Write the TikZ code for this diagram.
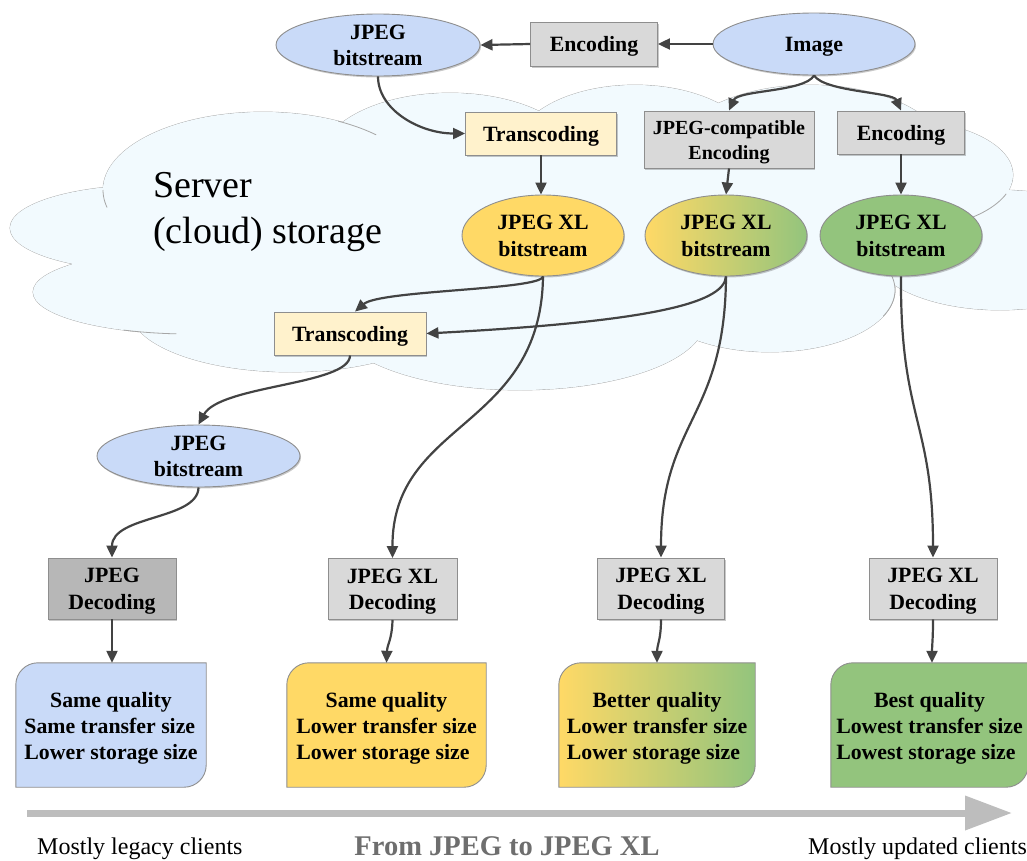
\documentclass[tikz,border=0pt]{standalone}
\usepackage{fontspec}
\setmainfont{Liberation Serif}
\usetikzlibrary{arrows.meta,shapes.geometric,shadows,calc,backgrounds}

\definecolor{bsblue}{HTML}{C9DAF8}
\definecolor{procgray}{HTML}{D9D9D9}
\definecolor{darkproc}{HTML}{B7B7B7}
\definecolor{jxlyellow}{HTML}{FFD966}
\definecolor{jxlgreen}{HTML}{93C47D}
\definecolor{transyellow}{HTML}{FFF2CC}
\definecolor{cloudfill}{HTML}{F2FAFE}
\definecolor{cloudedge}{HTML}{A6A6A6}
\definecolor{edgegray}{HTML}{8E8E8E}
\definecolor{connector}{HTML}{434343}
\definecolor{timeline}{HTML}{BDBDBD}
\definecolor{captiongray}{HTML}{6E6E6E}

% struts that keep the text block vertically balanced inside the shapes
\newcommand\topstrut{\rule{0pt}{20pt}}
\newcommand\botstrut{\rule[-5pt]{0pt}{5pt}}
\newcommand\lbl[1]{\topstrut#1\botstrut}

\tikzset{
  base/.style={draw=edgegray, line width=0.9pt, align=center, inner sep=0pt,
    font=\fontsize{21.8}{26.5}\selectfont\bfseries},
  shadowed/.style={drop shadow={shadow xshift=1pt, shadow yshift=-1.5pt, opacity=0.3, fill=black!70}},
  stream/.style={base, ellipse, inner xsep=-40pt, inner ysep=-15pt, shadowed},
  proc/.style={base, rectangle, fill=procgray, shadowed},
  resnode/.style={align=center, inner sep=0pt, minimum height=124pt,
    font=\fontsize{21.8}{26}\selectfont\bfseries},
  conn/.style={draw=connector, line width=2.2pt, -{Triangle[length=12pt,width=11pt]}},
  cloudpart/.style={draw=cloudedge, line width=0.8pt},
}

% result card: rectangle with rounded top-left and bottom-right corners
\newcommand\resultcard[6]{%
  \node[resnode, minimum width=#3] (#1) at #2
    {\rule{0pt}{24pt}#5\\\begin{tabular}[t]{@{}l@{}}#6\end{tabular}};
  \begin{pgfonlayer}{background}
    \path[draw=edgegray, line width=0.9pt, #4]
      ($(#1.north west)+(0,22)$) .. controls ($(#1.north west)+(0,10)$) and ($(#1.north west)+(10,0)$) .. ($(#1.north west)+(22,0)$)
      -- (#1.north east)
      -- ($(#1.south east)+(0,-22)$) .. controls ($(#1.south east)+(0,-10)$) and ($(#1.south east)+(-10,0)$) .. ($(#1.south east)+(-22,0)$)
      -- (#1.south west) -- cycle;
  \end{pgfonlayer}
}

\begin{document}
\begin{tikzpicture}[x=1pt,y=-1pt]
\useasboundingbox (0,0) rectangle (1027,860);

% ---------- storage cloud: outline of the union of ellipses ----------
\foreach \cx/\cy/\rx/\ry in {263/190/160/78, 450/160/130/67, 635/150/120/65, 810/160/140/75,
    900/175/113/55, 1000/250/130/60, 770/290/125/62, 520/320/185/70, 290/310/160/62,
    190/292/157/42, 150/228/140/43}
  \draw[cloudpart] (\cx,\cy) ellipse [x radius=\rx, y radius=\ry];
\foreach \cx/\cy/\rx/\ry in {263/190/160/78, 450/160/130/67, 635/150/120/65, 810/160/140/75,
    900/175/113/55, 1000/250/130/60, 770/290/125/62, 520/320/185/70, 290/310/160/62,
    190/292/157/42, 150/228/140/43, 540/230/380/100}
  \fill[cloudfill] (\cx,\cy) ellipse [x radius=\rx, y radius=\ry];
% short inner strokes where the lobes tuck into each other
\draw[cloudpart] plot[domain=45:62, samples=15] ({263+160*cos(\x)},{190-78*sin(\x)});
\draw[cloudpart] plot[domain=180:193, samples=10] ({263+160*cos(\x)},{190-78*sin(\x)});
\draw[cloudpart] plot[domain=-25:18, samples=20] ({770+125*cos(\x)},{290-62*sin(\x)});
\draw[cloudpart] plot[domain=-60:-20, samples=20] ({900+113*cos(\x)},{175-55*sin(\x)});
\draw[cloudpart] plot[domain=245:265, samples=15] ({190+157*cos(\x)},{292-42*sin(\x)});

\node[font=\fontsize{38}{46}\selectfont, align=left, anchor=north west, inner sep=0pt]
  (cloudlabel) at (153,172) {Server\\(cloud) storage};

% ---------- top row ----------
\node[stream, fill=bsblue, minimum width=204pt, minimum height=62pt] (jpgT) at (378,45) {\lbl{JPEG\\bitstream}};
\node[proc, minimum width=127pt, minimum height=44pt] (encT) at (594,44) {\lbl{Encoding}};
\node[stream, fill=bsblue, minimum width=202pt, minimum height=62pt] (img) at (814,44) {\lbl{Image}};

% ---------- inside the cloud ----------
\node[proc, fill=transyellow, minimum width=151pt, minimum height=43pt] (trT) at (541,133.5) {\lbl{Transcoding}};
\node[proc, minimum width=170pt, minimum height=57pt, font=\fontsize{20}{24.5}\selectfont\bfseries] (jce) at (729,139.5) {\lbl{JPEG-compatible\\Encoding}};
\node[proc, minimum width=127pt, minimum height=43pt] (encR) at (901,132.5) {\lbl{Encoding}};

\node[stream, fill=jxlyellow, minimum width=162pt, minimum height=81pt] (jxlY) at (543,235.5) {\lbl{JPEG XL\\bitstream}};
\node[stream, left color=jxlyellow, right color=jxlgreen, minimum width=162pt, minimum height=81pt] (jxlG) at (726,235.5) {\lbl{JPEG XL\\bitstream}};
\node[stream, fill=jxlgreen, minimum width=162pt, minimum height=81pt] (jxlR) at (901,235.5) {\lbl{JPEG XL\\bitstream}};

\node[proc, fill=transyellow, minimum width=152pt, minimum height=43pt] (trL) at (350,333.5) {\lbl{Transcoding}};
\node[stream, fill=bsblue, minimum width=203pt, minimum height=62pt] (jpgL) at (198.5,456) {\lbl{JPEG\\bitstream}};

% ---------- decoders ----------
\node[proc, fill=darkproc, minimum width=128pt, minimum height=61pt] (dec0) at (112,588.5) {\lbl{JPEG\\Decoding}};
\node[proc, minimum width=129pt, minimum height=61pt] (dec1) at (392.5,589) {\lbl{JPEG XL\\Decoding}};
\node[proc, minimum width=127pt, minimum height=61pt] (dec2) at (661,588.5) {\lbl{JPEG XL\\Decoding}};
\node[proc, minimum width=128pt, minimum height=61pt] (dec3) at (933,588.5) {\lbl{JPEG XL\\Decoding}};

% ---------- outcomes ----------
\resultcard{res0}{(111,725)}{190pt}{fill=bsblue}{Same quality}{Same transfer size\\Lower storage size}
\resultcard{res1}{(386.5,725)}{199pt}{fill=jxlyellow}{Same quality}{Lower transfer size\\Lower storage size}
\resultcard{res2}{(657,725)}{196pt}{left color=jxlyellow, right color=jxlgreen}{Better quality}{Lower transfer size\\Lower storage size}
\resultcard{res3}{(929.5,725)}{197pt}{fill=jxlgreen}{Best quality}{Lowest transfer size\\Lowest storage size}

% ---------- connectors ----------
\draw[conn] (encT.west) -- (jpgT.east);
\draw[conn] (img.west) -- (encT.east);
\draw[conn] (jpgT.south) .. controls (378,110) and (420,133.5) .. (trT.west);
\draw[conn] (img.south) .. controls (805,92) and (738,90) .. (jce.north);
\draw[conn] (img.south) .. controls (825,92) and (893,92) .. (encR.north);
\draw[conn] (trT.south) -- (jxlY.north -| trT.south);
\draw[conn] (jce.south) -- (jxlG.north);
\draw[conn] (encR.south) -- (jxlR.north);

\draw[conn] (jxlY.south) .. controls (541,290) and (380,290) .. ($(trL.north)+(5,0)$);
\draw[conn] (jxlG.south) .. controls (724,305) and (640,322) .. (trL.east);
\draw[conn] (jxlY.south) .. controls (541,430) and (392,420) .. (dec1.north);
\draw[conn] (jxlG.south) .. controls (725,420) and (661,420) .. (dec2.north);
\draw[conn] (jxlR.south) .. controls (900,420) and (933,420) .. (dec3.north);

\draw[conn] (trL.south) .. controls (350,385) and (220,385) .. (jpgL.north);
\draw[conn] (jpgL.south) .. controls (198,520) and (112,515) .. (dec0.north);

\draw[conn] (dec0.south) -- (res0.north -| dec0.south);
\draw[conn] (dec1.south) .. controls (392,640) and (387,645) .. (res1.north);
\draw[conn] (dec2.south) .. controls (661,640) and (657,645) .. (res2.north);
\draw[conn] (dec3.south) .. controls (933,640) and (932,645) .. ($(res3.north)+(2.5,0)$);

% ---------- migration axis ----------
\coordinate (axisstart) at (27,813);
\coordinate (axisend) at (1012,813);
\draw[draw=timeline, line width=7pt, -{Triangle[length=47pt 0 0, width=33pt 0 0]}] (axisstart) -- (axisend);

\node[font=\fontsize{24}{28}\selectfont, anchor=base west, inner sep=0pt] (legacy) at (37,854) {Mostly legacy clients};
\node[font=\fontsize{28.5}{32}\selectfont\bfseries, text=captiongray, anchor=base, inner sep=0pt] (direction) at (507,855) {From JPEG to JPEG XL};
\node[font=\fontsize{24}{28}\selectfont, anchor=base west, inner sep=0pt] (updated) at (808,854) {Mostly updated clients};
\end{tikzpicture}
\end{document}
